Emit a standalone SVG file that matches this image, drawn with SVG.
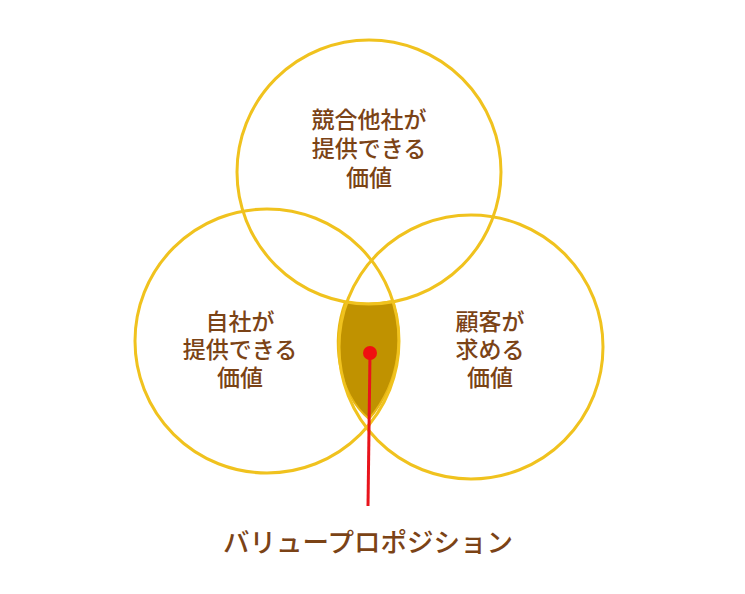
<svg xmlns="http://www.w3.org/2000/svg" width="745" height="594" viewBox="0 0 745 594">
  <style>
    .ring { fill: none; stroke: #F0C21E; stroke-width: 3; }
    .lbl { font-family: "Noto Sans CJK JP", "Noto Sans", sans-serif; font-size: 23px; fill: #7B4316; text-anchor: middle; font-weight: 500; }
    .big { font-size: 26.5px; }
  </style>
  <rect width="745" height="594" fill="#FFFFFF"/>
  <g id="overlap">
    <path d="M345,302 A132,132 0 0 0 393,301 C402,328 404,378 369,419 C337,392 331,340 345,302 Z" fill="#C09200" stroke="#E8B814" stroke-width="2"/>
  </g>
  <g id="competitor">
    <circle class="ring" cx="369" cy="172" r="132"/>
    <text class="lbl" x="369" y="128">競合他社が</text>
    <text class="lbl" x="369" y="157">提供できる</text>
    <text class="lbl" x="369" y="186">価値</text>
  </g>
  <g id="own">
    <circle class="ring" cx="267" cy="341" r="132"/>
    <text class="lbl" x="240" y="330">自社が</text>
    <text class="lbl" x="240" y="358">提供できる</text>
    <text class="lbl" x="240" y="386">価値</text>
  </g>
  <g id="customer">
    <circle class="ring" cx="471" cy="347" r="132"/>
    <text class="lbl" x="490" y="330">顧客が</text>
    <text class="lbl" x="490" y="358">求める</text>
    <text class="lbl" x="490" y="386">価値</text>
  </g>
  <g id="connectors">
    <line x1="370" y1="353" x2="368" y2="506" stroke="#E8141C" stroke-width="3"/>
    <circle cx="370" cy="353" r="7" fill="#F01010"/>
  </g>
  <g id="value-proposition">
    <text class="lbl big" x="368" y="552">バリュープロポジション</text>
  </g>
</svg>
